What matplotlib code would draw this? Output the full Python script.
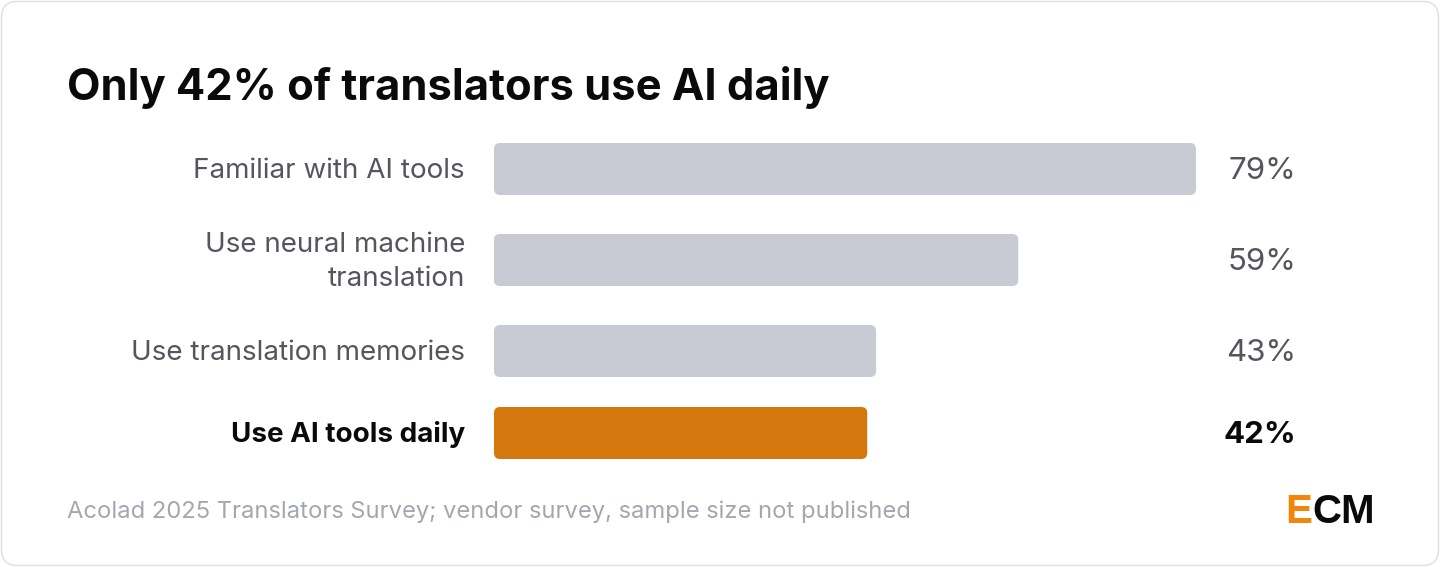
import matplotlib
matplotlib.use("Agg")
import matplotlib.pyplot as plt
from matplotlib.patches import FancyBboxPatch
import matplotlib.transforms as mtransforms

plt.rcParams['font.family'] = ['Inter', 'DejaVu Sans']

# ---- data ----
categories = ["Familiar with AI tools", "Use neural machine\ntranslation",
              "Use translation memories", "Use AI tools daily"]
values = [79, 59, 43, 42]
highlight = [False, False, False, True]
value_labels = ["79%", "59%", "43%", "42%"]
title = "Only 42% of translators use AI daily"
source = "Acolad 2025 Translators Survey; vendor survey, sample size not published"

# ---- layout (pixels) ----
W, H = 1440, 567
DPI = 100
bar_centers = [169, 260, 351, 433]
bar_h = 52
px_per_pct = (1196 - 494) / 79.0
radius_px = 6
text_dy = 2

GREY = "#c8cbd3"
ORANGE = "#d4770c"
LABEL_C = "#55555f"
VALUE_C = "#55555f"

fig = plt.figure(figsize=(W / DPI, H / DPI), dpi=DPI, facecolor="white")

# background axes in pixel coordinates
bg = fig.add_axes([0, 0, 1, 1])
bg.set_xlim(0, W)
bg.set_ylim(H, 0)
bg.axis("off")
card = FancyBboxPatch((1.5, 1.5), W - 3, H - 3,
                      boxstyle="round,pad=0,rounding_size=16",
                      facecolor="white", edgecolor="#e2e2e8", linewidth=1.2)
bg.add_patch(card)

bg.text(67, 100, title, fontsize=31.3, fontweight="bold", color="#0a0a0a",
        ha="left", va="baseline")
bg.text(67, 518, source, fontsize=17.1, color="#a3a7b0", ha="left", va="baseline")

# ECM logo
t_cm = bg.text(1375, 523, "CM", fontsize=29, fontweight="bold", color="#0a0a0a",
               ha="right", va="baseline", family=["Liberation Sans", "DejaVu Sans"])
fig.canvas.draw()
bb = t_cm.get_window_extent()
bg.text(bb.x0, 523, "E", fontsize=29, fontweight="bold", color="#f0870a",
        ha="right", va="baseline", family=["Liberation Sans", "DejaVu Sans"],
        transform=mtransforms.blended_transform_factory(
            mtransforms.IdentityTransform(), bg.transData))

# bar axes: x in percent, y in pixels
x0 = 494
ax_w = 100 * px_per_pct
ax = fig.add_axes([x0 / W, 0, ax_w / W, 1])
ax.set_xlim(0, 100)
ax.set_ylim(H, 0)
ax.axis("off")

aspect = px_per_pct  # y px per x-unit for rounding
for cat, v, hl, lab, yc in zip(categories, values, highlight, value_labels, bar_centers):
    r = radius_px / px_per_pct
    p = FancyBboxPatch((0, yc - bar_h / 2), v, bar_h,
                       boxstyle=f"round,pad=0,rounding_size={r}",
                       mutation_aspect=aspect,
                       facecolor=ORANGE if hl else GREY, edgecolor="none")
    ax.add_patch(p)
    ax.text(-29 / px_per_pct, yc + text_dy, cat, ha="right", va="center",
            fontsize=20, color="#0a0a0a" if hl else LABEL_C,
            fontweight="bold" if hl else "normal", linespacing=1.4)
    ax.text((1296 - x0) / px_per_pct, yc + text_dy, lab, ha="right", va="center",
            fontsize=22.5, color="#0a0a0a" if hl else VALUE_C,
            fontweight="bold" if hl else "normal")

fig.savefig("out.png", dpi=DPI, facecolor="white")
